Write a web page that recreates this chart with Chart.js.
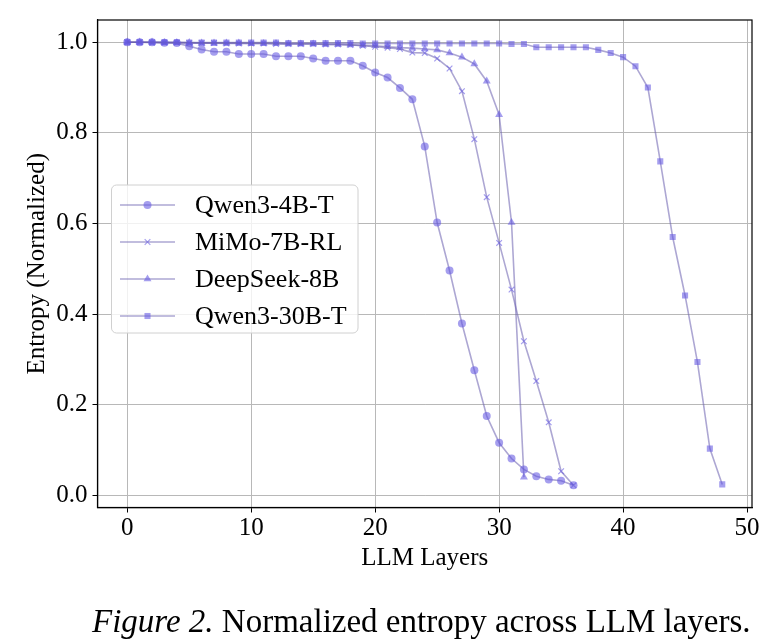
<!DOCTYPE html>
<html>
<head>
<meta charset="utf-8">
<script src="https://cdn.jsdelivr.net/npm/chart.js@4"></script>
<style>
  html, body { margin: 0; padding: 0; background: #fff; overflow: hidden; }
  #wrap { position: relative; width: 772px; height: 642px; }
  #caption {
    position: absolute; left: 92px; top: 601px; line-height: 40px;
    font-family: "Liberation Serif", "DejaVu Serif", serif; font-size: 33px;
    white-space: nowrap; color: #000;
  }
</style>
</head>
<body>
<div id="wrap">
  <canvas id="chart" width="772" height="642"></canvas>
  <div id="caption"><i>Figure 2.</i> Normalized entropy across LLM layers.</div>
</div>
<script>
const seriesNames = ['Qwen3-4B-T', 'MiMo-7B-RL', 'DeepSeek-8B', 'Qwen3-30B-T']

const qwen4b = [1.0, 1.0, 1.0, 0.999, 0.998, 0.991, 0.984, 0.979, 0.979, 0.974,
  0.974, 0.974, 0.969, 0.969, 0.969, 0.964, 0.959, 0.959, 0.959, 0.948,
  0.933, 0.922, 0.899, 0.874, 0.770, 0.602, 0.496, 0.379, 0.276, 0.175,
  0.116, 0.081, 0.057, 0.042, 0.035, 0.032, 0.022]

const mimo7b = [1.0, 1.0, 0.999, 0.999, 0.999, 0.998, 0.998, 0.998, 0.997, 0.997,
  0.997, 0.997, 0.996, 0.996, 0.996, 0.996, 0.995, 0.995, 0.994, 0.992,
  0.990, 0.988, 0.985, 0.977, 0.976, 0.964, 0.942, 0.892, 0.786, 0.658,
  0.557, 0.454, 0.340, 0.252, 0.161, 0.053, 0.022]

const deepseek8b = [1.0, 1.0, 1.0, 0.999, 0.999, 0.999, 0.998, 0.998, 0.998, 0.998,
  0.997, 0.997, 0.997, 0.996, 0.996, 0.996, 0.995, 0.995, 0.994, 0.993,
  0.992, 0.990, 0.988, 0.987, 0.985, 0.983, 0.976, 0.967, 0.952, 0.914,
  0.840, 0.602, 0.040]

const qwen30b = [1.0, 1.0, 1.0, 1.0, 1.0, 0.999, 0.999, 0.999, 0.999, 0.999,
  0.999, 0.999, 0.999, 0.998, 0.998, 0.998, 0.998, 0.998, 0.998, 0.997,
  0.997, 0.997, 0.997, 0.997, 0.997, 0.997, 0.997, 0.997, 0.997, 0.997,
  0.997, 0.996, 0.996, 0.989, 0.989, 0.989, 0.989, 0.989, 0.983, 0.976,
  0.967, 0.947, 0.900, 0.737, 0.570, 0.441, 0.294, 0.103, 0.024]

const xTicks = [0, 10, 20, 30, 40, 50]
const yTicks = [0.0, 0.2, 0.4, 0.6, 0.8, 1.0]

const seriesValues = [qwen4b, mimo7b, deepseek8b, qwen30b]
const markers = ['circle', 'crossRot', 'triangle', 'rect']
const markerSize = { circle: 4, crossRot: 4, triangle: 4.6, rect: 4.3 }

const lineColor = 'rgba(105, 95, 175, 0.55)'
const markColor = 'rgba(100, 88, 225, 0.58)'
const serif = '"Liberation Serif", "DejaVu Serif", serif'

const toPoints = vals => vals.map((v, i) => ({ x: i, y: v }))

const datasets = seriesNames.map((name, k) => ({
  label: name,
  data: toPoints(seriesValues[k]),
  borderColor: lineColor,
  borderWidth: 1.6,
  pointStyle: markers[k],
  pointRadius: markerSize[markers[k]],
  pointBorderWidth: markers[k] === 'crossRot' ? 1.2 : 0,
  pointBackgroundColor: markColor,
  pointBorderColor: markColor,
  tension: 0,
  fill: false
}))

// frame (all four spines)
const framePlugin = {
  id: 'frame',
  afterDatasetsDraw(chart) {
    const { ctx, chartArea: a } = chart
    ctx.save()
    ctx.strokeStyle = '#000'
    ctx.lineWidth = 1.2
    ctx.strokeRect(a.left, a.top, a.right - a.left, a.bottom - a.top)
    ctx.restore()
  }
}

// legend drawn inside the axes, like matplotlib's
const insideLegend = {
  id: 'insideLegend',
  afterDraw(chart) {
    const ctx = chart.ctx
    const bx = 111.5, by = 185, bw = 246.5, bh = 148, r = 5
    ctx.save()
    ctx.beginPath()
    ctx.moveTo(bx + r, by)
    ctx.arcTo(bx + bw, by, bx + bw, by + bh, r)
    ctx.arcTo(bx + bw, by + bh, bx, by + bh, r)
    ctx.arcTo(bx, by + bh, bx, by, r)
    ctx.arcTo(bx, by, bx + bw, by, r)
    ctx.closePath()
    ctx.fillStyle = 'rgba(255,255,255,0.8)'
    ctx.fill()
    ctx.strokeStyle = '#d0d0d0'
    ctx.lineWidth = 1
    ctx.stroke()

    chart.data.datasets.forEach((ds, i) => {
      const y = 205 + i * 37
      ctx.beginPath()
      ctx.moveTo(120, y)
      ctx.lineTo(175, y)
      ctx.strokeStyle = ds.borderColor
      ctx.lineWidth = ds.borderWidth
      ctx.stroke()
      ctx.fillStyle = ds.pointBackgroundColor
      ctx.strokeStyle = ds.pointBorderColor
      ctx.lineWidth = ds.pointStyle === 'crossRot' ? 1.2 : 0.01
      Chart.helpers.drawPoint(ctx, {
        pointStyle: ds.pointStyle, radius: ds.pointRadius, rotation: 0,
        borderWidth: ds.pointBorderWidth
      }, 147.5, y)
      ctx.fillStyle = '#000'
      ctx.font = '26px ' + serif
      ctx.textBaseline = 'middle'
      ctx.textAlign = 'left'
      ctx.fillText(ds.label, 195, y + 1)
    })
    ctx.restore()
  }
}

new Chart(document.getElementById('chart'), {
  type: 'line',
  data: { datasets },
  options: {
    responsive: false,
    animation: false,
    layout: { padding: { top: 19, right: 20, left: 0, bottom: 0 } },
    plugins: { legend: { display: false }, tooltip: { enabled: false } },
    scales: {
      x: {
        type: 'linear',
        min: -2.4,
        max: 50.4,
        afterFit: s => { s.height = 134.5 },
        afterBuildTicks: s => { s.ticks = xTicks.map(v => ({ value: v })) },
        ticks: {
          color: '#000',
          padding: 3,
          font: { family: serif, size: 25, lineHeight: 1 },
          callback: v => String(v)
        },
        grid: { color: '#b8b8b8', lineWidth: 1, tickLength: 5, tickColor: '#000', tickWidth: 1 },
        border: { display: true, color: '#000', width: 1.2 },
        title: {
          display: true,
          text: 'LLM Layers',
          color: '#000',
          font: { family: serif, size: 25, lineHeight: 1.2 },
          padding: { top: 4, bottom: 69 }
        }
      },
      y: {
        type: 'linear',
        min: -0.027,
        max: 1.049,
        afterFit: s => { s.width = 97.5 },
        afterBuildTicks: s => { s.ticks = yTicks.map(v => ({ value: v })) },
        ticks: {
          color: '#000',
          padding: 5,
          font: { family: serif, size: 25 },
          callback: v => v.toFixed(1)
        },
        grid: { color: '#b8b8b8', lineWidth: 1, tickLength: 5, tickColor: '#000', tickWidth: 1 },
        border: { display: true, color: '#000', width: 1.2 },
        title: {
          display: true,
          text: 'Entropy (Normalized)',
          color: '#000',
          font: { family: serif, size: 25, lineHeight: 1.2 },
          padding: { top: 22, bottom: 4 }
        }
      }
    }
  },
  plugins: [framePlugin, insideLegend]
})
</script>
</body>
</html>
